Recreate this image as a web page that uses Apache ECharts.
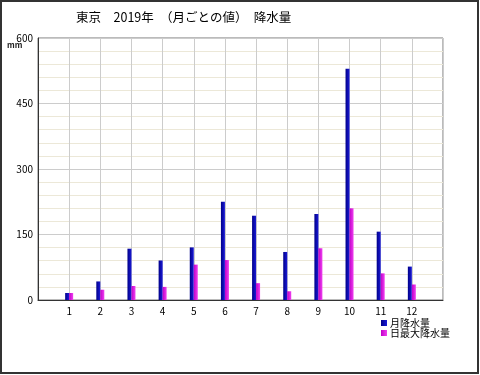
<!DOCTYPE html>
<html>
<head>
<meta charset="utf-8">
<script src="https://cdn.jsdelivr.net/npm/echarts@6/dist/echarts.min.js"></script>
<style>html,body{margin:0;padding:0;background:#fff}#c{width:480px;height:375px}</style>
</head>
<body>
<div id="c"></div>
<script>
var months = ['1','2','3','4','5','6','7','8','9','10','11','12'];
var monthlyTotal = [16, 42.5, 117.5, 90.5, 120.5, 225, 193, 110, 197, 529.5, 156.5, 76.5];
var dailyMax = [16, 23.5, 32, 30, 81, 91.5, 38.5, 20, 118.5, 210, 61, 35.5];
var seriesNames = ['月降水量', '日最大降水量'];
var yTicks = [0, 150, 300, 450, 600];

var cats = [''].concat(months).concat(['']);
function pad(a){ return [null].concat(a).concat([null]); }
var FONT = '"Noto Sans CJK JP", "Noto Sans", sans-serif';

var chart = echarts.init(document.getElementById('c'), null, {renderer: 'canvas'});
chart.setOption({
  animation: false,
  backgroundColor: '#fff',
  textStyle: {fontFamily: FONT},
  title: {
    text: '東京　2019年　（月ごとの値）　降水量',
    left: 76, top: 11, padding: 0,
    textStyle: {fontSize: 12.5, fontWeight: 'normal', color: '#000', fontFamily: FONT}
  },
  legend: {
    orient: 'vertical', left: 381, top: 318, padding: 0,
    itemWidth: 6, itemHeight: 6, itemGap: 0,
    icon: 'rect',
    data: seriesNames,
    textStyle: {fontSize: 10, color: '#000', lineHeight: 10, padding: [0,0,0,-2], fontFamily: FONT}
  },
  grid: {left: 38, right: 37, top: 38, bottom: 75, show: true, borderColor: '#777', borderWidth: 1},
  xAxis: {
    type: 'category', data: cats, boundaryGap: false,
    axisLine: {lineStyle: {color: '#333', width: 1}},
    axisTick: {show: false},
    axisLabel: {interval: 0, fontSize: 10, color: '#000', margin: 6},
    splitLine: {show: true, lineStyle: {color: '#cccccc', width: 1}}
  },
  yAxis: {
    type: 'value', min: 0, max: 600, interval: 150,
    axisLine: {show: true, lineStyle: {color: '#333', width: 1}},
    axisTick: {show: false},
    axisLabel: {fontSize: 10, color: '#000', margin: 5,
      formatter: function(v){ return yTicks.indexOf(v) >= 0 ? String(v) : ''; }},
    splitLine: {show: true, lineStyle: {color: '#cccccc', width: 1}},
    minorTick: {show: false, splitNumber: 5},
    minorSplitLine: {show: true, lineStyle: {color: '#ece8d8', width: 1}}
  },
  series: [
    {
      name: seriesNames[0], type: 'bar', data: pad(monthlyTotal),
      barWidth: 4, barGap: '0%',
      itemStyle: {color: new echarts.graphic.LinearGradient(0,0,1,0,[{offset:0,color:'#000088'},{offset:1,color:'#1a1ad8'}])}
    },
    {
      name: seriesNames[1], type: 'bar', data: pad(dailyMax),
      barWidth: 4, barGap: '0%',
      itemStyle: {color: new echarts.graphic.LinearGradient(0,0,1,0,[{offset:0,color:'#c000c8'},{offset:1,color:'#f040f0'}])}
    }
  ],
  graphic: [
    {type: 'text', left: 7, top: 41, style: {text: 'mm', fontSize: 8, fontWeight: 'bold', fill: '#222', fontFamily: FONT}},
    {type: 'rect', shape: {x: 1, y: 1, width: 477, height: 372}, style: {fill: 'none', stroke: '#333', lineWidth: 2}, silent: true}
  ]
});
</script>
</body>
</html>
